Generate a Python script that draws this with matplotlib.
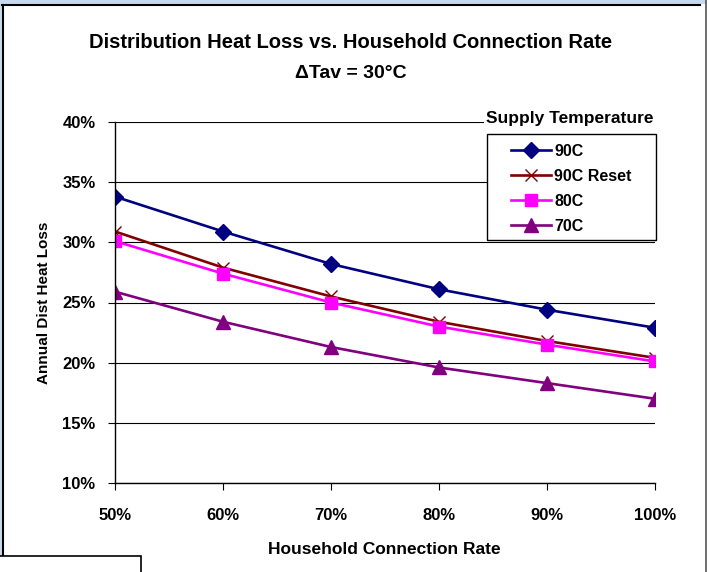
import matplotlib
matplotlib.use("Agg")
import matplotlib.pyplot as plt
from matplotlib.patches import Rectangle
from matplotlib.lines import Line2D
from matplotlib.ticker import FuncFormatter

# household connection rate (fraction) and annual distribution heat loss (fraction)
connection_rate = [0.50, 0.60, 0.70, 0.80, 0.90, 1.00]
loss_90c = [0.338, 0.309, 0.282, 0.261, 0.244, 0.229]
loss_90c_reset = [0.309, 0.279, 0.255, 0.234, 0.218, 0.204]
loss_80c = [0.301, 0.274, 0.250, 0.230, 0.215, 0.201]
loss_70c = [0.259, 0.234, 0.213, 0.196, 0.183, 0.170]

series_names = ["90C", "90C Reset", "80C", "70C"]
x_ticks = [0.5, 0.6, 0.7, 0.8, 0.9, 1.0]
y_ticks = [0.10, 0.15, 0.20, 0.25, 0.30, 0.35, 0.40]

W, H = 707, 572
fig = plt.figure(figsize=(W / 100, H / 100), dpi=100)
fig.patch.set_facecolor("white")
plt.rcParams["font.family"] = ["Liberation Sans", "DejaVu Sans"]


def fx(px):
    return px / W


def fy(py):
    return 1 - py / H


# window frame around the chart
fig.patches.append(Rectangle((0, fy(4)), 1, 4 / H, transform=fig.transFigure,
                             facecolor="#c6d9f1", edgecolor="none", zorder=0))
fig.patches.append(Rectangle((0, 0), 2 / W, 1, transform=fig.transFigure,
                             facecolor="#c6d9f1", edgecolor="none", zorder=0))
fig.lines.append(Line2D([fx(2), fx(700)], [fy(4.5), fy(4.5)], transform=fig.transFigure,
                        color="black", lw=1.5))
fig.lines.append(Line2D([fx(2.5), fx(2.5)], [fy(4.5), fy(556)], transform=fig.transFigure,
                        color="black", lw=1.5))
fig.lines.append(Line2D([fx(705.5), fx(705.5)], [fy(0), fy(572)], transform=fig.transFigure,
                        color="#555555", lw=1.2))
fig.patches.append(Rectangle((fx(-2), fy(574)), fx(142.5), 18 / H, transform=fig.transFigure,
                             facecolor="white", edgecolor="black", lw=1.2, zorder=3))

ax = fig.add_axes([fx(115), fy(483), fx(655 - 115), (483 - 122) / H])
ax.set_facecolor("none")

ax.plot(connection_rate, loss_90c, color="#000080", lw=1.9, marker="D", ms=8,
        label=series_names[0], zorder=4)
ax.plot(connection_rate, loss_90c_reset, color="#800000", lw=1.9, marker="x", ms=9,
        mew=1.0, label=series_names[1], zorder=4)
ax.plot(connection_rate, loss_80c, color="#ff00ff", lw=1.9, marker="s", ms=8.5,
        label=series_names[2], zorder=4)
ax.plot(connection_rate, loss_70c, color="#800080", lw=1.9, marker="^", ms=9.5,
        label=series_names[3], zorder=4)

ax.set_xlim(0.5, 1.0)
ax.set_ylim(0.10, 0.40)
ax.set_xticks(x_ticks)
ax.set_yticks(y_ticks)
pct = FuncFormatter(lambda v, _: f"{v * 100:.0f}%")
ax.xaxis.set_major_formatter(pct)
ax.yaxis.set_major_formatter(pct)

ax.grid(axis="y", color="black", lw=0.8, zorder=1)
ax.set_axisbelow(True)
for side in ("top", "right"):
    ax.spines[side].set_visible(False)
for side in ("left", "bottom"):
    ax.spines[side].set_color("black")
    ax.spines[side].set_linewidth(1.0)
ax.spines["left"].set_zorder(5)

ax.tick_params(axis="y", direction="out", length=5, width=0.8, pad=9,
               labelsize=12)
ax.tick_params(axis="x", direction="out", length=5, width=0.8, pad=13,
               labelsize=12)
for lbl in ax.get_xticklabels() + ax.get_yticklabels():
    lbl.set_fontweight("bold")

ax.set_ylabel("Annual Dist Heat Loss", fontsize=11, fontweight="bold", labelpad=8)
fig.text(fx(384), fy(550), "Household Connection Rate", ha="center", va="center",
         fontsize=12.5, fontweight="bold")

fig.text(fx(351), fy(42), "Distribution Heat Loss vs. Household Connection Rate",
         ha="center", va="center", fontsize=14.5, fontweight="bold")
fig.text(fx(351), fy(74), "\u0394Tav = 30\u00b0C", ha="center", va="center",
         fontsize=14, fontweight="bold")

fig.text(fx(569.5), fy(118.5), "Supply Temperature", ha="center", va="center",
         fontsize=12.5, fontweight="bold",
         bbox=dict(facecolor="white", edgecolor="none", pad=1.5), zorder=6)

# legend frame drawn separately so the entries can sit indented inside it
ax.add_patch(Rectangle((fx(487), fy(240)), fx(169), (240 - 134) / H,
                       transform=fig.transFigure, facecolor="white",
                       edgecolor="black", lw=1.0, zorder=5.5, clip_on=False))
leg = ax.legend(loc="upper left", bbox_to_anchor=(fx(511), fy(144)),
                bbox_transform=fig.transFigure, borderaxespad=0, borderpad=0,
                frameon=False, fontsize=11.5, handlelength=2.5,
                handletextpad=0.2, labelspacing=0.62)
leg.set_zorder(6)
for t in leg.get_texts():
    t.set_fontweight("bold")

fig.savefig("out.png", dpi=100)
